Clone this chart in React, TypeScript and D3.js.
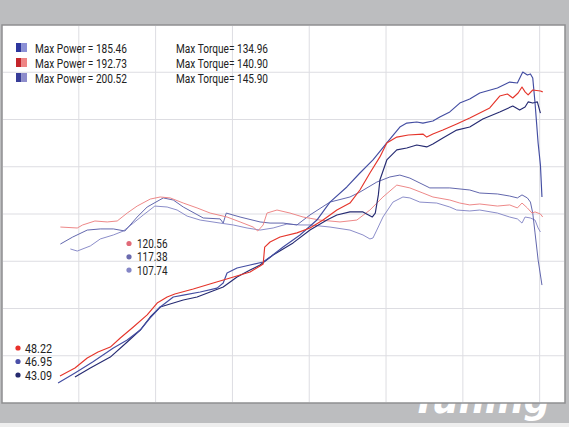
import React from "react";
import * as d3 from "d3";

// RPM vs value (power / torque)
const powerA: [number, number][] = [[1950,33.8],[2150,38.5],[2410,44.3],[2630,52.3],[2800,58.6],[2930,65.5],[3060,70.8],[3360,74.5],[3540,76.1],[3710,78.7],[3880,81.4],[4060,86.7],[4230,90.4],[4360,93.0],[4530,98.3],[4790,104.7],[5010,111.5],[5230,116.8],[5360,119.5],[5530,121.1],[5700,121.1],[5820,118.4],[5860,120.5],[5900,130.1],[5920,138.0],[6010,148.6],[6140,153.9],[6270,154.9],[6400,156.5],[6530,155.5],[6610,157.0],[6740,160.2],[6920,164.4],[7090,166.0],[7260,170.3],[7480,174.0],[7650,177.1],[7740,175.0],[7810,176.6],[7850,179.3],[7910,178.7],[7970,179.3],[8010,173.4]];
const powerB: [number, number][] = [[1755,34.3],[1950,38.5],[2110,43.8],[2250,47.0],[2410,49.6],[2540,54.4],[2710,60.2],[2890,66.6],[3020,72.9],[3150,76.1],[3250,77.7],[3490,80.3],[3750,83.5],[3970,86.1],[4230,89.3],[4360,92.5],[4400,93.5],[4420,102.5],[4490,105.2],[4620,107.8],[4840,110.0],[5010,112.6],[5180,116.8],[5360,122.1],[5530,125.8],[5660,132.7],[5790,141.7],[5920,150.2],[6010,157.6],[6140,160.7],[6290,161.8],[6480,162.3],[6530,160.7],[6610,162.3],[6740,164.4],[6920,167.6],[7090,170.8],[7350,176.1],[7480,182.4],[7580,183.5],[7650,181.4],[7720,184.0],[7770,187.2],[7810,184.6],[7850,183.0],[7910,185.6],[8010,185.1],[8040,184.6]];
const powerC: [number, number][] = [[1730,30.6],[1950,35.9],[2180,41.7],[2450,49.1],[2630,53.3],[2800,58.6],[2930,65.0],[3060,70.8],[3230,76.1],[3360,77.1],[3580,78.7],[3800,80.8],[3880,83.5],[3930,88.8],[4060,91.4],[4230,93.0],[4400,94.6],[4490,97.2],[4660,102.5],[4880,108.9],[5100,116.8],[5270,126.3],[5490,134.3],[5660,141.7],[5830,148.6],[6010,157.6],[6180,166.0],[6270,168.1],[6400,168.7],[6480,168.1],[6610,169.2],[6700,171.3],[6830,174.0],[6960,178.7],[7090,180.8],[7220,184.0],[7450,186.7],[7610,189.8],[7710,189.3],[7780,195.1],[7840,193.5],[7880,194.1],[7910,192.0],[7940,178.7],[7980,157.6],[8010,145.9],[8030,129.0]];
const torqueA: [number, number][] = [[1890,101.5],[1980,100.4],[2150,103.1],[2280,106.8],[2450,108.9],[2580,111.0],[2710,115.2],[2840,119.5],[2990,124.2],[3150,123.7],[3280,122.1],[3410,118.9],[3580,116.8],[3840,115.2],[4010,114.2],[4190,112.6],[4360,111.5],[4530,112.6],[4710,114.7],[4880,114.2],[5010,114.2],[5270,113.1],[5530,111.5],[5700,108.9],[5790,106.8],[5830,107.3],[5880,111.5],[5960,118.4],[6090,126.3],[6220,129.0],[6310,128.5],[6440,126.3],[6660,125.8],[6830,123.7],[6920,122.1],[7090,121.6],[7220,122.1],[7450,120.5],[7610,118.4],[7710,117.4],[7770,115.2],[7810,118.4],[7880,117.9],[7940,116.8],[7980,112.6],[8010,110.5]];
const torqueB: [number, number][] = [[1760,113.1],[1980,112.6],[2050,114.2],[2210,116.3],[2370,115.8],[2500,116.3],[2630,120.5],[2760,124.2],[2930,127.9],[3060,129.0],[3190,128.5],[3360,125.8],[3540,123.2],[3710,120.5],[3930,118.4],[4100,115.8],[4270,113.1],[4330,111.0],[4400,114.2],[4450,120.5],[4580,122.1],[4750,120.5],[4920,118.4],[5140,116.8],[5400,115.8],[5620,116.8],[5790,122.1],[5960,129.0],[6140,135.3],[6310,133.8],[6480,131.1],[6610,129.0],[6830,127.4],[6960,125.8],[7090,124.8],[7220,125.3],[7450,124.2],[7610,124.8],[7710,123.2],[7770,125.8],[7840,123.2],[7900,120.5],[7940,121.1],[8010,120.0],[8040,118.4]];
const torqueC: [number, number][] = [[1760,104.1],[1920,107.8],[2110,111.5],[2280,112.1],[2450,112.1],[2600,111.0],[2760,118.4],[2890,123.7],[3100,128.5],[3230,127.4],[3360,123.7],[3620,117.9],[3840,117.4],[3880,115.2],[3920,120.5],[4100,118.4],[4360,115.8],[4490,115.2],[4660,115.2],[4840,114.2],[5010,119.5],[5270,126.3],[5530,129.0],[5660,131.6],[5880,136.9],[6050,139.6],[6180,140.6],[6310,139.0],[6570,133.8],[6830,133.8],[7090,132.7],[7220,131.1],[7450,130.6],[7610,129.5],[7710,128.5],[7770,130.1],[7840,128.5],[7880,126.3],[7910,120.5],[7940,110.0],[7980,95.7],[8030,82.4]];

const xTicks = [2000, 3000, 4000, 5000, 6000, 7000, 8000];
const yTicks = [45, 70, 95, 120, 145, 170, 195];

const legendPower = ["Max Power = 185.46", "Max Power = 192.73", "Max Power = 200.52"];
const legendTorque = ["Max Torque= 134.96", "Max Torque= 140.90", "Max Torque= 145.90"];
const legendColors = [["#2d369e", "#8b90d6"], ["#c4252b", "#ef8585"], ["#383d98", "#8e8dcc"]];

const torqueStart = ["120.56", "117.38", "107.74"];
const torqueStartColors = ["#e06a78", "#6a6aae", "#8486c6"];
const powerStart = ["48.22", "46.95", "43.09"];
const powerStartColors = ["#e8302a", "#4a50a8", "#252a6e"];

const series = [
  { data: torqueA, color: "#8587c6", w: 0.95 },
  { data: torqueC, color: "#5a5fa9", w: 0.95 },
  { data: torqueB, color: "#ec8282", w: 0.95 },
  { data: powerA, color: "#262b72", w: 1.15 },
  { data: powerC, color: "#434da2", w: 1.15 },
  { data: powerB, color: "#e5352b", w: 1.15 },
];

export default function App() {
  const W = 569, H = 427;
  const left = 2, right = 565, top = 25, bottom = 403;
  const x = d3.scaleLinear().domain([1000, 8330]).range([left, right]);
  const y = d3.scaleLinear().domain([20, 220]).range([bottom, top]);
  const line = d3.line<[number, number]>().x(d => x(d[0])).y(d => y(d[1]));
  const font = "Roboto, 'Noto Sans', sans-serif";

  return (
    <svg width={W} height={H} style={{ position: "fixed", left: 0, top: 0 }}>
      <rect x={0} y={0} width={W} height={H} fill="#eeeeee" />
      <rect x={0} y={0} width={W} height={423} fill="#bcbdbf" />
      <text x={412} y={413} fill="#ffffff" fontFamily="'DejaVu Sans', sans-serif" fontWeight={900}
        fontStyle="italic" fontSize={38} textLength={138} lengthAdjust="spacingAndGlyphs">Tuning</text>
      <rect x={left} y={top} width={right - left} height={bottom - top} fill="#ffffff" stroke="#8e8f91" strokeWidth={1.5} />
      <g stroke="#dddde2" strokeWidth={1}>
        {xTicks.map(t => <line key={"x" + t} x1={x(t)} x2={x(t)} y1={top + 1} y2={bottom - 1} />)}
        {yTicks.map(t => <line key={"y" + t} x1={left + 1} x2={right - 1} y1={y(t)} y2={y(t)} />)}
      </g>
      {series.map((s, i) => (
        <path key={i} d={line(s.data) || ""} fill="none" stroke={s.color} strokeWidth={s.w} strokeLinejoin="round" />
      ))}
      <g fontFamily={font} fontSize={13} fill="#222">
        {legendPower.map((t, i) => (
          <g key={i}>
            <rect x={16} y={43 + i * 15} width={5.5} height={9} fill={legendColors[i][0]} />
            <rect x={21.5} y={43 + i * 15} width={5.5} height={9} fill={legendColors[i][1]} />
            <text x={35} y={52.5 + i * 15} textLength={92} lengthAdjust="spacingAndGlyphs">{t}</text>
            <text x={176} y={52.5 + i * 15} textLength={92} lengthAdjust="spacingAndGlyphs">{legendTorque[i]}</text>
          </g>
        ))}
      </g>
      <g fontFamily={font} fontSize={12} fill="#222">
        {torqueStart.map((t, i) => (
          <g key={i}>
            <circle cx={129} cy={243.5 + i * 13.3} r={2.6} fill={torqueStartColors[i]} />
            <text x={137} y={248 + i * 13.3} textLength={30.5} lengthAdjust="spacingAndGlyphs">{t}</text>
          </g>
        ))}
        {powerStart.map((t, i) => (
          <g key={"p" + i}>
            <circle cx={18} cy={348 + i * 13.5} r={2.6} fill={powerStartColors[i]} />
            <text x={25} y={352.5 + i * 13.5} textLength={27} lengthAdjust="spacingAndGlyphs">{t}</text>
          </g>
        ))}
      </g>
    </svg>
  );
}
